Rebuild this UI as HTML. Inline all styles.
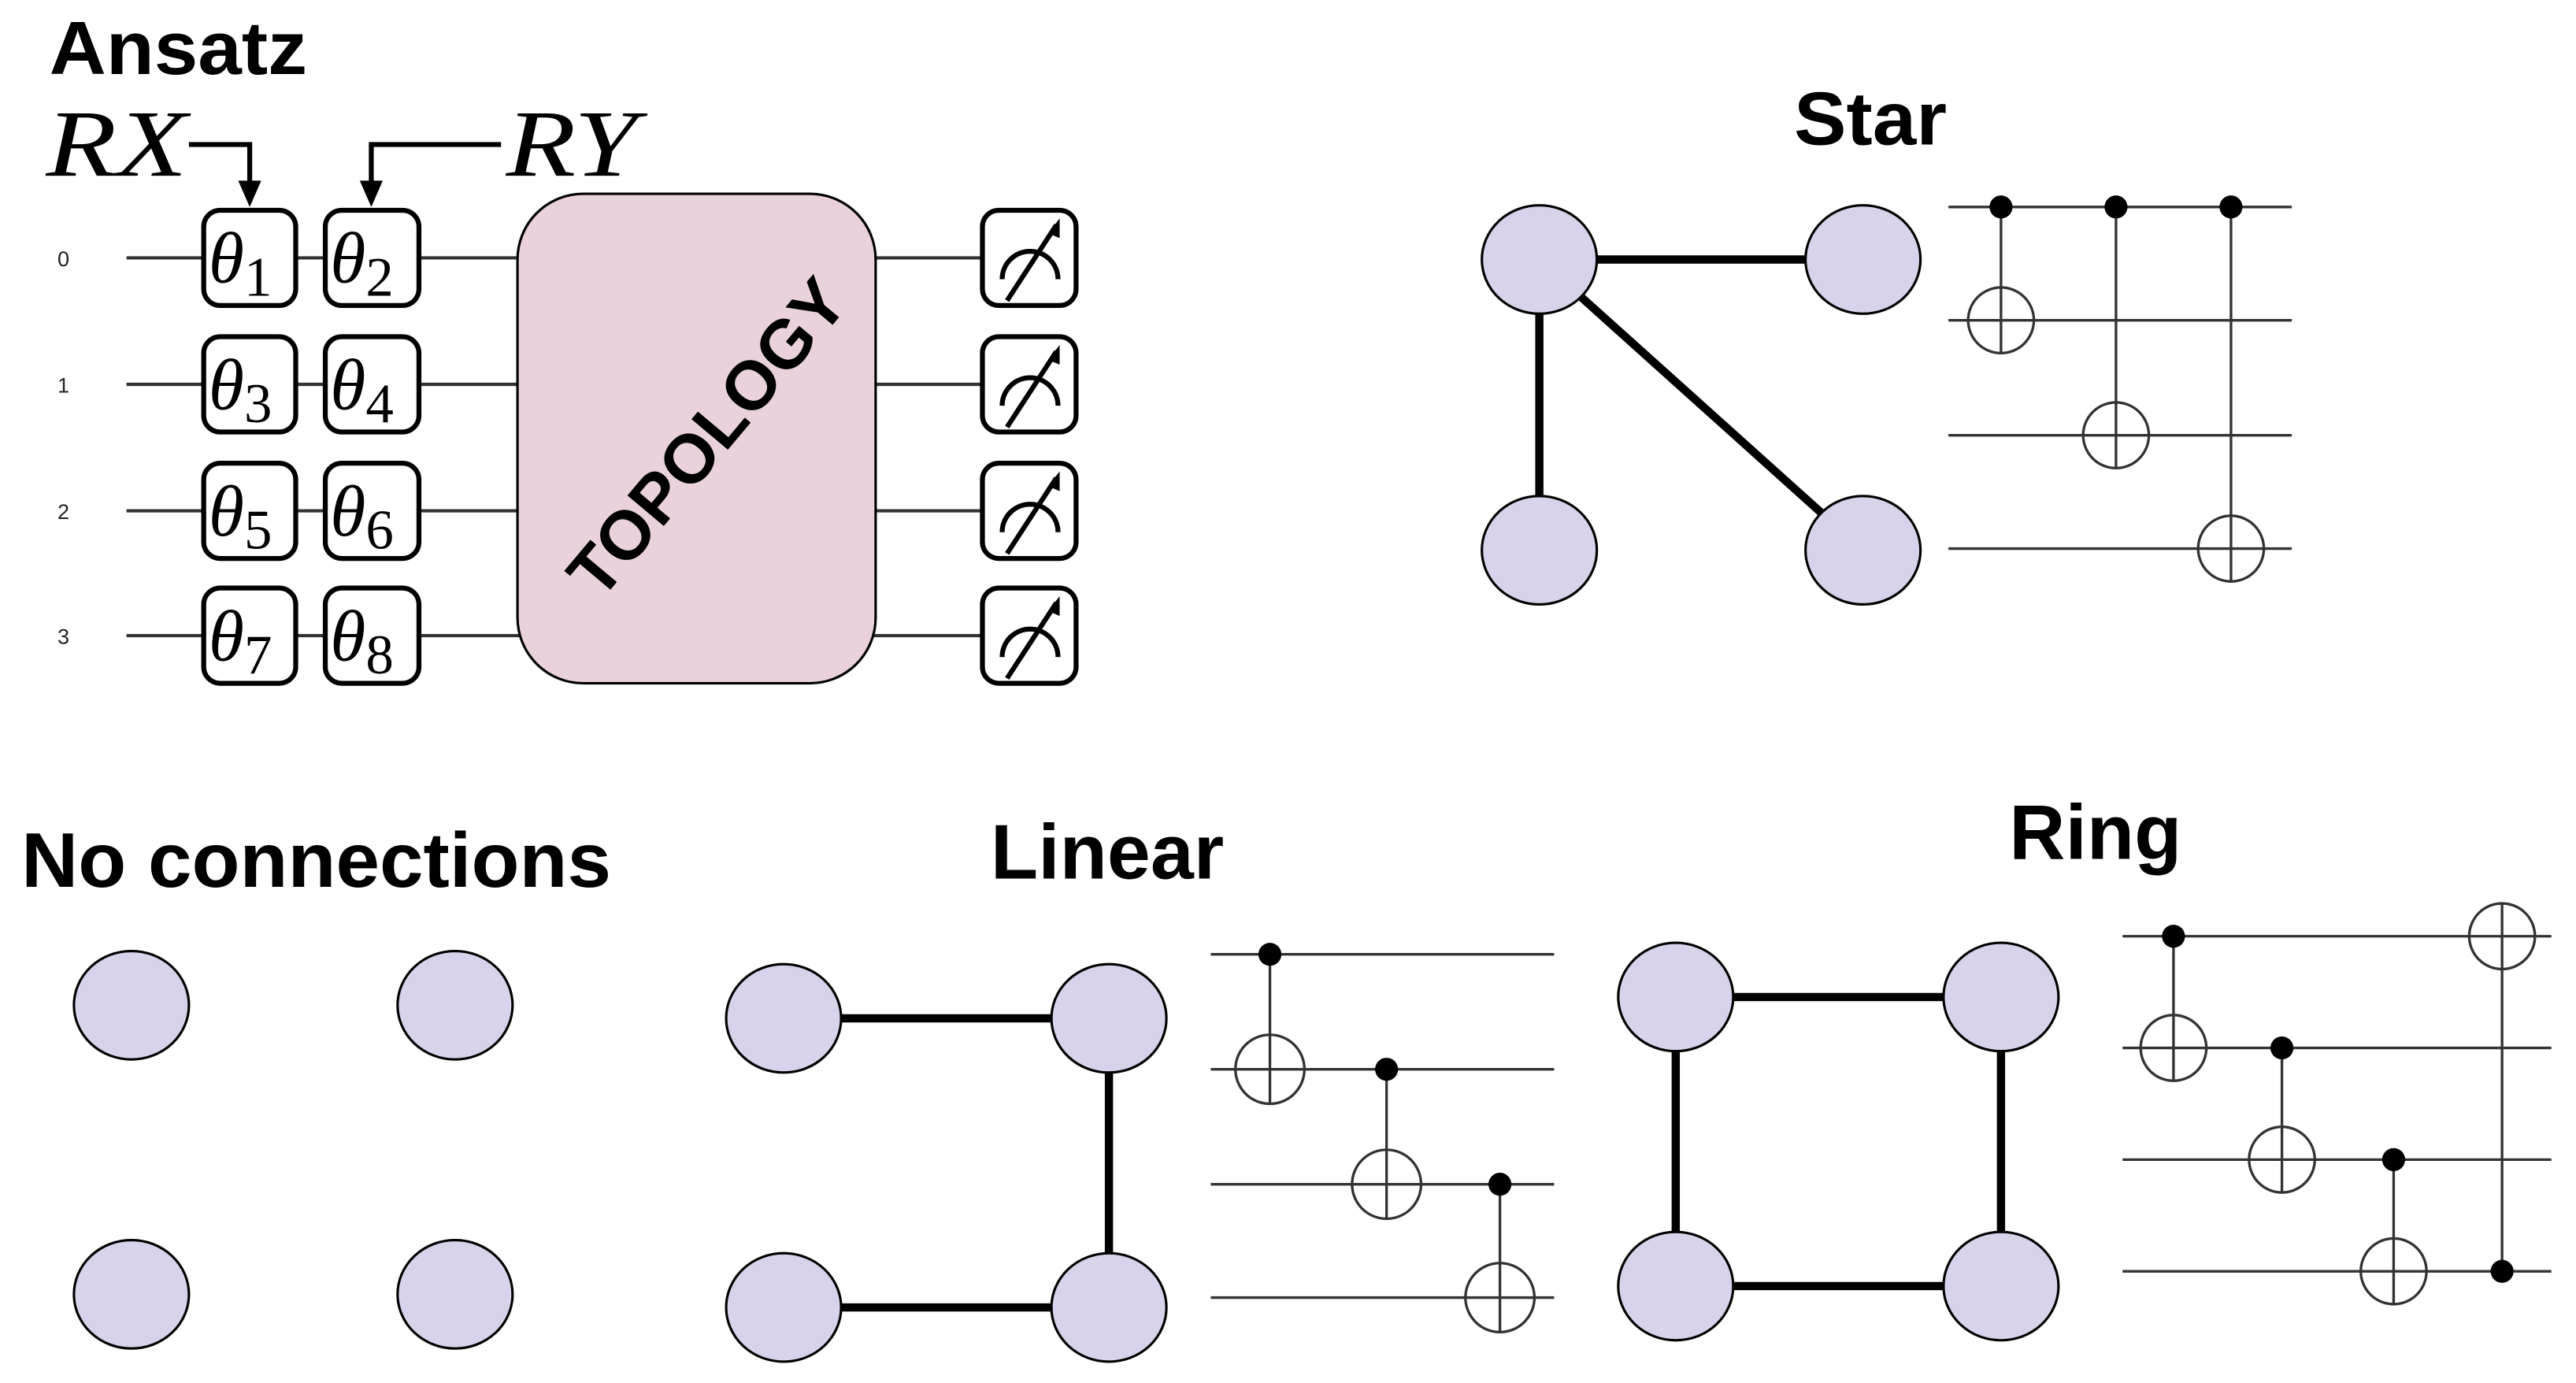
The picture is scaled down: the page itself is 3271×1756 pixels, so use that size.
<!DOCTYPE html>
<html><head><meta charset="utf-8"><style>
html,body{margin:0;padding:0;background:#fff;}
svg{display:block;}
.t{font-family:"Liberation Sans",sans-serif;font-weight:bold;fill:#000;}
.m{font-family:"Liberation Serif",serif;font-style:italic;fill:#000;}
.n{fill:#d8d3ea;stroke:#000;stroke-width:1.5;}
.w{stroke:#333;stroke-width:1.6;fill:none;}
.e{stroke:#000;stroke-width:5;}
.g{fill:#fff;stroke:#000;stroke-width:3;}
.tg{fill:#fff;stroke:#333;stroke-width:1.6;}
</style></head><body>
<svg width="3271" height="1756" viewBox="0 0 1568 842" preserveAspectRatio="none" xmlns="http://www.w3.org/2000/svg">
<rect width="1568" height="842" fill="#fff"/>
<!-- Ansatz -->
<text class="t" x="30" y="45" font-size="46" textLength="157" lengthAdjust="spacingAndGlyphs">Ansatz</text>
<text class="m" x="28" y="107" font-size="58" textLength="86" lengthAdjust="spacingAndGlyphs">RX</text>
<text class="m" x="308" y="107" font-size="58" textLength="80" lengthAdjust="spacingAndGlyphs">RY</text>
<polyline points="115,88 152,88 152,112" fill="none" stroke="#000" stroke-width="3"/>
<polygon points="145,110 159,110 152,126" fill="#000"/>
<polyline points="305,88 226,88 226,112" fill="none" stroke="#000" stroke-width="3"/>
<polygon points="219,110 233,110 226,126" fill="#000"/>
<g font-family="Liberation Sans,sans-serif" font-size="13" fill="#222">
<text x="35" y="162">0</text><text x="35" y="239">1</text><text x="35" y="316">2</text><text x="35" y="392">3</text>
</g>
<g stroke="#333" stroke-width="2">
<line x1="77" y1="157" x2="600" y2="157"/><line x1="77" y1="234" x2="600" y2="234"/>
<line x1="77" y1="311" x2="600" y2="311"/><line x1="77" y1="387" x2="600" y2="387"/>
</g>
<g>
<rect class="g" x="124" y="128" width="56" height="58" rx="10"/><rect class="g" x="198" y="128" width="57" height="58" rx="10"/>
<rect class="g" x="124" y="205" width="56" height="58" rx="10"/><rect class="g" x="198" y="205" width="57" height="58" rx="10"/>
<rect class="g" x="124" y="282" width="56" height="58" rx="10"/><rect class="g" x="198" y="282" width="57" height="58" rx="10"/>
<rect class="g" x="124" y="358" width="56" height="58" rx="10"/><rect class="g" x="198" y="358" width="57" height="58" rx="10"/>
</g>
<g class="m" font-size="44">
<text x="127" y="172">θ<tspan font-style="normal" font-size="34" dy="8">1</tspan></text>
<text x="201" y="172">θ<tspan font-style="normal" font-size="34" dy="8">2</tspan></text>
<text x="127" y="249">θ<tspan font-style="normal" font-size="34" dy="8">3</tspan></text>
<text x="201" y="249">θ<tspan font-style="normal" font-size="34" dy="8">4</tspan></text>
<text x="127" y="326">θ<tspan font-style="normal" font-size="34" dy="8">5</tspan></text>
<text x="201" y="326">θ<tspan font-style="normal" font-size="34" dy="8">6</tspan></text>
<text x="127" y="402">θ<tspan font-style="normal" font-size="34" dy="8">7</tspan></text>
<text x="201" y="402">θ<tspan font-style="normal" font-size="34" dy="8">8</tspan></text>
</g>
<rect x="315" y="118" width="218" height="298" rx="40" fill="#e9d2dc" stroke="#000" stroke-width="1.5"/>
<text class="t" font-size="42" transform="translate(430,266) rotate(-50)" text-anchor="middle" dy="15">TOPOLOGY</text>
<g id="ms">
<rect class="g" x="598" y="128" width="57" height="58" rx="10"/>
<path d="M610,170 A17,17 0 0 1 644,170" fill="none" stroke="#000" stroke-width="3"/>
<line x1="613" y1="183" x2="643" y2="137" stroke="#000" stroke-width="3"/>
<polygon points="645,133 638,142 645,145" fill="#000"/>
</g>
<use href="#ms" y="77"/><use href="#ms" y="154"/><use href="#ms" y="230"/>
<!-- Star -->
<text class="t" x="1092" y="88" font-size="46" textLength="93" lengthAdjust="spacingAndGlyphs">Star</text>
<line class="e" x1="937" y1="158" x2="1134" y2="158"/>
<line class="e" x1="937" y1="158" x2="937" y2="335"/>
<line class="e" x1="937" y1="158" x2="1134" y2="335"/>
<ellipse class="n" cx="937" cy="158" rx="35" ry="33"/><ellipse class="n" cx="1134" cy="158" rx="35" ry="33"/>
<ellipse class="n" cx="937" cy="335" rx="35" ry="33"/><ellipse class="n" cx="1134" cy="335" rx="35" ry="33"/>
<g class="w">
<line x1="1186" y1="126" x2="1395" y2="126"/><line x1="1186" y1="195" x2="1395" y2="195"/>
<line x1="1186" y1="265" x2="1395" y2="265"/><line x1="1186" y1="334" x2="1395" y2="334"/>
</g>
<g class="tg"><circle cx="1218" cy="195" r="20"/><circle cx="1288" cy="265" r="20"/><circle cx="1358" cy="334" r="20"/></g>
<g class="w">
<line x1="1218" y1="126" x2="1218" y2="215"/><line x1="1198" y1="195" x2="1238" y2="195"/>
<line x1="1288" y1="126" x2="1288" y2="285"/><line x1="1268" y1="265" x2="1308" y2="265"/>
<line x1="1358" y1="126" x2="1358" y2="354"/><line x1="1338" y1="334" x2="1378" y2="334"/>
</g>
<circle cx="1218" cy="126" r="7"/><circle cx="1288" cy="126" r="7"/><circle cx="1358" cy="126" r="7"/>
<!-- No connections -->
<text class="t" x="13" y="540" font-size="47" textLength="359" lengthAdjust="spacingAndGlyphs">No connections</text>
<ellipse class="n" cx="80" cy="612" rx="35" ry="33"/><ellipse class="n" cx="277" cy="612" rx="35" ry="33"/>
<ellipse class="n" cx="80" cy="788" rx="35" ry="33"/><ellipse class="n" cx="277" cy="788" rx="35" ry="33"/>
<!-- Linear -->
<text class="t" x="603" y="535" font-size="47" textLength="142" lengthAdjust="spacingAndGlyphs">Linear</text>
<line class="e" x1="477" y1="620" x2="675" y2="620"/>
<line class="e" x1="675" y1="620" x2="675" y2="796"/>
<line class="e" x1="477" y1="796" x2="675" y2="796"/>
<ellipse class="n" cx="477" cy="620" rx="35" ry="33"/><ellipse class="n" cx="675" cy="620" rx="35" ry="33"/>
<ellipse class="n" cx="477" cy="796" rx="35" ry="33"/><ellipse class="n" cx="675" cy="796" rx="35" ry="33"/>
<g class="w">
<line x1="737" y1="581" x2="946" y2="581"/><line x1="737" y1="651" x2="946" y2="651"/>
<line x1="737" y1="721" x2="946" y2="721"/><line x1="737" y1="790" x2="946" y2="790"/>
</g>
<g class="tg"><circle cx="773" cy="651" r="21"/><circle cx="844" cy="721" r="21"/><circle cx="913" cy="790" r="21"/></g>
<g class="w">
<line x1="773" y1="581" x2="773" y2="672"/><line x1="752" y1="651" x2="794" y2="651"/>
<line x1="844" y1="651" x2="844" y2="742"/><line x1="823" y1="721" x2="865" y2="721"/>
<line x1="913" y1="721" x2="913" y2="811"/><line x1="892" y1="790" x2="934" y2="790"/>
</g>
<circle cx="773" cy="581" r="7"/><circle cx="844" cy="651" r="7"/><circle cx="913" cy="721" r="7"/>
<!-- Ring -->
<text class="t" x="1223" y="523" font-size="47" textLength="105" lengthAdjust="spacingAndGlyphs">Ring</text>
<line class="e" x1="1020" y1="607" x2="1218" y2="607"/>
<line class="e" x1="1020" y1="783" x2="1218" y2="783"/>
<line class="e" x1="1020" y1="607" x2="1020" y2="783"/>
<line class="e" x1="1218" y1="607" x2="1218" y2="783"/>
<ellipse class="n" cx="1020" cy="607" rx="35" ry="33"/><ellipse class="n" cx="1218" cy="607" rx="35" ry="33"/>
<ellipse class="n" cx="1020" cy="783" rx="35" ry="33"/><ellipse class="n" cx="1218" cy="783" rx="35" ry="33"/>
<g class="w">
<line x1="1292" y1="570" x2="1553" y2="570"/><line x1="1292" y1="638" x2="1553" y2="638"/>
<line x1="1292" y1="706" x2="1553" y2="706"/><line x1="1292" y1="774" x2="1553" y2="774"/>
</g>
<g class="tg"><circle cx="1323" cy="638" r="20"/><circle cx="1389" cy="706" r="20"/><circle cx="1457" cy="774" r="20"/><circle cx="1523" cy="570" r="20"/></g>
<g class="w">
<line x1="1323" y1="570" x2="1323" y2="658"/><line x1="1303" y1="638" x2="1343" y2="638"/>
<line x1="1389" y1="638" x2="1389" y2="726"/><line x1="1369" y1="706" x2="1409" y2="706"/>
<line x1="1457" y1="706" x2="1457" y2="794"/><line x1="1437" y1="774" x2="1477" y2="774"/>
<line x1="1523" y1="550" x2="1523" y2="774"/><line x1="1503" y1="570" x2="1543" y2="570"/>
</g>
<circle cx="1323" cy="570" r="7"/><circle cx="1389" cy="638" r="7"/><circle cx="1457" cy="706" r="7"/><circle cx="1523" cy="774" r="7"/>
</svg>
</body></html>
